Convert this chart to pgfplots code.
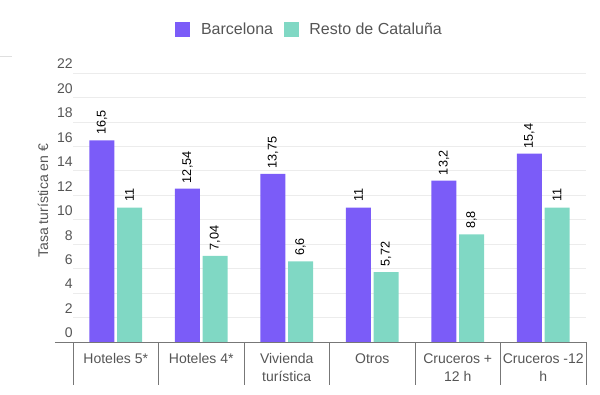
\documentclass[border=0pt]{standalone}
\usepackage{pgfplots}
\pgfplotsset{compat=1.18}
\usepackage{fontspec}
\setmainfont{Liberation Sans}
\definecolor{barc}{HTML}{7B5CF8}
\definecolor{resto}{HTML}{80D8C4}
\definecolor{txt}{HTML}{555555}
\definecolor{sep}{HTML}{777777}
\begin{document}
\begin{tikzpicture}
\useasboundingbox (-54.75pt,-39pt) rectangle (395.25pt,256.5pt);
\draw[gray!25, line width=0.6pt] (-54.75pt,214.5pt) -- (-45.75pt,214.5pt);
\begin{axis}[
  at={(0,0)}, anchor=south west,
  scale only axis,
  width=384.75pt, height=201.75pt,
  ybar=2pt, bar width=18.75pt,
  xmin=-0.5, xmax=5.5,
  ymin=0, ymax=22,
  ytick={0,2,...,22},
  xtick={0,1,2,3,4,5},
  xticklabels={Hoteles 5*, Hoteles 4*, {Vivienda\\turística}, Otros, {Cruceros +\\12 h}, {Cruceros -12\\h}},
  xticklabel style={align=center, font=\fontsize{10.5}{13.5}\selectfont, text=txt, anchor=north, yshift=-1pt},
  major x tick style={draw=none},
  axis lines*=left,
  x axis line style={draw=none},
  y axis line style={draw=none},
  major y tick style={draw=none},
  ymajorgrids, grid style={gray!15, line width=0.6pt},
  yticklabel style={font=\fontsize{10.5}{12}\selectfont, text=txt, anchor=east, inner sep=0pt, xshift=0pt, yshift=6.75pt},
  /pgf/number format/assume math mode=true,
  ylabel={Tasa turística en €},
  ylabel style={font=\fontsize{10.5}{12}\selectfont, text=txt, at={(axis description cs:0,0.525)}, anchor=center, yshift=22.5pt},
  nodes near coords,
  /pgf/number format/use comma,
  nodes near coords style={rotate=90, anchor=west, font=\fontsize{9.5}{11}\selectfont, text=black, inner sep=0pt, xshift=4pt},
  legend columns=2,
  legend style={at={(axis description cs:0.462,1.16)}, anchor=center, draw=none, fill=none, font=\fontsize{12}{14}\selectfont, text=txt, column sep=6pt},
  legend image code/.code={\fill[#1] (4pt,-5.6pt) rectangle (15.2pt,5.6pt);},
  clip=false,
]
\addplot[fill=barc, draw=none] coordinates {(0,16.5) (1,12.54) (2,13.75) (3,11) (4,13.2) (5,15.4)};
\addlegendentry{Barcelona}
\addplot[fill=resto, draw=none] coordinates {(0,11) (1,7.04) (2,6.6) (3,5.72) (4,8.8) (5,11)};
\addlegendentry{Resto de Cataluña}
\draw[sep, line width=0.6pt] ([xshift=-13.5pt]axis cs:-0.5,0) -- (axis cs:5.5,0);
\draw[sep, line width=0.6pt] (axis cs:-0.5,0) -- ([yshift=-32.25pt]axis cs:-0.5,0);
\draw[sep, line width=0.6pt] (axis cs:0.5,0) -- ([yshift=-32.25pt]axis cs:0.5,0);
\draw[sep, line width=0.6pt] (axis cs:1.5,0) -- ([yshift=-32.25pt]axis cs:1.5,0);
\draw[sep, line width=0.6pt] (axis cs:2.5,0) -- ([yshift=-32.25pt]axis cs:2.5,0);
\draw[sep, line width=0.6pt] (axis cs:3.5,0) -- ([yshift=-32.25pt]axis cs:3.5,0);
\draw[sep, line width=0.6pt] (axis cs:4.5,0) -- ([yshift=-32.25pt]axis cs:4.5,0);
\draw[sep, line width=0.6pt] (axis cs:5.5,0) -- ([yshift=-32.25pt]axis cs:5.5,0);
\end{axis}
\end{tikzpicture}
\end{document}
